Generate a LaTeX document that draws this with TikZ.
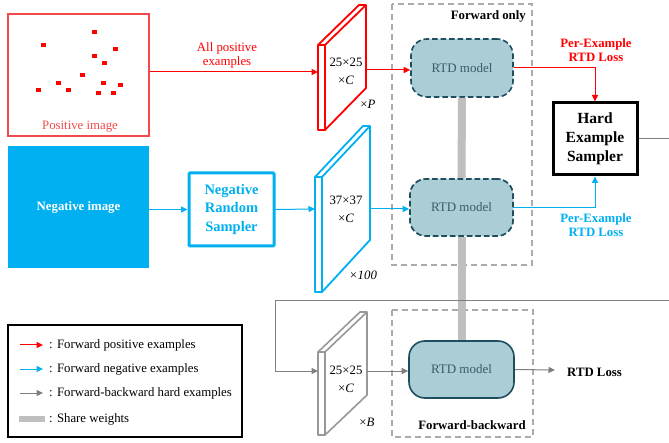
\documentclass[tikz,border=0pt]{standalone}
\usepackage{fontspec}
\setmainfont{Liberation Serif}
\usetikzlibrary{arrows.meta}
\definecolor{myred}{HTML}{FF0000}
\definecolor{lred}{HTML}{F24A4A}
\definecolor{myblue}{HTML}{00B0F0}
\definecolor{mygray}{HTML}{7F7F7F}
\definecolor{sharegray}{HTML}{BFBFBF}
\definecolor{boxgray}{HTML}{ABABAB}
\definecolor{rtdfill}{HTML}{AACDD6}
\definecolor{rtdline}{HTML}{1F4E5F}
\definecolor{rtdtext}{HTML}{3D5A66}
\newcommand{\fs}[2]{\fontsize{#1}{#2}\selectfont}
\tikzset{
  tip/.style={-{Triangle[length=6.5pt,width=6pt]}},
  redarrow/.style={tip,draw=myred,line width=1pt},
  bluearrow/.style={tip,draw=myblue,line width=1pt},
  grayarrow/.style={tip,draw=mygray,line width=1pt},
  rtd/.style={rounded corners=16pt,fill=rtdfill,draw=rtdline,line width=1.6pt,
     text=rtdtext,font=\fs{13}{15},inner sep=0pt},
  rtddash/.style={dash pattern=on 5.5pt off 3pt},
  dashbox/.style={draw=boxgray,dashed,dash pattern=on 6pt off 4pt,line width=1.3pt},
  bigbox/.style={inner sep=0pt,align=center,font=\bfseries\fs{15.5}{19}},
  plain/.style={inner sep=0pt,align=center,font=\fs{12.8}{14}},
  slabtxt/.style={inner sep=0pt,align=center,font=\fs{12.8}{18}},
  boldlab/.style={inner sep=0pt,align=center,font=\bfseries\fs{12.8}{14}},
}
\begin{document}
\begin{tikzpicture}[x=1pt,y=-1pt]
\useasboundingbox[fill=white] (0,0) rectangle (669,443);

% dashed boxes
\draw[dashbox] (392,4) rectangle (532,265);
\draw[dashbox] (392,310) rectangle (533,437);
\node[boldlab,anchor=east] (fwo) at (526,16) {Forward only};
\node[boldlab] (fwb) at (472,425) {Forward-backward};

% RTD models
\node[rtd,rtddash,minimum width=102pt,minimum height=58pt] (rtd1) at (462,68) {RTD model};
\node[rtd,rtddash,minimum width=103pt,minimum height=57pt] (rtd2) at (461.5,207.5) {RTD model};
% share weights bar
\draw[sharegray,line width=8pt] (rtd1.south) -- (rtd2.north);
\node[rtd,minimum width=105pt,minimum height=57pt] (rtd3) at (461.5,369.5) {RTD model};
\draw[sharegray,line width=8pt] (rtd2.south) -- (rtd3.north);
\node[rtd,rtddash,minimum width=103pt,minimum height=57pt] (rtd2b) at (461.5,207.5) {RTD model};

% positive image
\node[draw=lred,line width=1.5pt,minimum width=141pt,minimum height=122pt,inner sep=0pt] (posimg) at (78.5,75) {};
\node[plain,text=lred] (poslab) at (80,127) {Positive image};
\foreach \px/\py in {94/32,43/45,115/49,94/56,104/63,82/75,58/83,103/83,120/85,38/90,68/90,98/93,113/93}
  \fill[myred] (\px-2.5,\py-2) rectangle ++(5,4);

% negative image
\node[fill=myblue,minimum width=141pt,minimum height=122pt,inner sep=0pt,text=white,font=\bfseries\fs{12.8}{14}] (negimg) at (78.5,207) {Negative image};

% negative random sampler
\node[draw=myblue,line width=3pt,minimum width=85pt,minimum height=73pt,rounded corners=1pt,
      text=myblue,align=center,font=\bfseries\fs{14.5}{18.5},inner sep=0pt] (nrs) at (231.5,209.5) {Negative\\Random\\Sampler};

% hard example sampler
\node[draw=black,line width=3pt,minimum width=84pt,minimum height=72pt,bigbox] (hes) at (595,139) {Hard\\Example\\Sampler};

% red slab
\draw[myred,line width=1.8pt,fill=white,line join=round]
  (318,45) -- (359,5) -- (366,5) -- (366,88) -- (325,130) -- (318,130) -- cycle;
\draw[myred,line width=1.8pt] (318,45) -- (325,45) -- (366,5) (325,45) -- (325,130);
\node[slabtxt] (rslab) at (346,71) {25×25\\×\textit{C}};
\node[plain] (rmul) at (368,104) {×\textit{P}};
\coordinate (rsin) at (318,72);
\coordinate (rsout) at (366,70);

% blue slab
\draw[myblue,line width=1.8pt,fill=white,line join=round]
  (315,177) -- (363,126) -- (370,126) -- (370,240) -- (322,292) -- (315,292) -- cycle;
\draw[myblue,line width=1.8pt] (315,177) -- (322,177) -- (370,126) (322,177) -- (322,292);
\node[slabtxt] (bslab) at (346,209) {37×37\\×\textit{C}};
\node[plain,font=\itshape\fs{12.8}{14}] (bmul) at (363,275) {×100};
\coordinate (bsin) at (315,209);
\coordinate (bsout) at (370,209);

% gray slab
\draw[mygray!80,line width=1.6pt,fill=white,line join=round]
  (318,352) -- (360,312) -- (367,312) -- (367,395) -- (325,435) -- (318,435) -- cycle;
\draw[mygray!80,line width=1.6pt] (318,352) -- (325,352) -- (367,312) (325,352) -- (325,435);
\node[slabtxt] (gslab) at (346,379) {25×25\\×\textit{C}};
\node[plain] (gmul) at (367,422) {×\textit{B}};
\coordinate (gsin) at (318,371);
\coordinate (gsout) at (367,371);

% red connectors
\draw[redarrow] (posimg.east |- rsin) -- (rsin);
\node[plain,text=myred] (allpos) at (227,55) {All positive\\examples};
\draw[redarrow] (rsout) -- (rtd1.west |- rsout);
\draw[redarrow] (rtd1.east) -- (hes.north |- rtd1.east) -- (hes.north);
\node[boldlab,text=myred] (perred) at (596,50) {Per-Example\\RTD Loss};

% blue connectors
\draw[bluearrow] (negimg.east |- nrs.west) -- (nrs.west);
\draw[bluearrow] (nrs.east) -- (bsin);
\draw[bluearrow] (bsout) -- (rtd2b.west |- bsout);
\draw[bluearrow] (rtd2b.east) -- (hes.south |- rtd2b.east) -- (hes.south);
\node[boldlab,text=myblue] (perblue) at (596,225) {Per-Example\\RTD Loss};

% gray connectors
\draw[grayarrow] (hes.east) -- (675,139) -- (675,301) -- (275,301) -- (275,371) -- (gsin);
\draw[grayarrow] (gsout) -- (rtd3.west |- gsout);
\coordinate (lossend) at (555,370);
\draw[grayarrow] (rtd3.east) -- (lossend);
\node[boldlab,anchor=west] (rtdloss) at (567,372) {RTD Loss};

% legend
\node[draw=black,line width=1.5pt,minimum width=234pt,minimum height=112pt,inner sep=0pt] (legend) at (125,381) {};
\coordinate (l1a) at (20,345); \coordinate (l1b) at (43,345);
\coordinate (l2a) at (20,369); \coordinate (l2b) at (43,369);
\coordinate (l3a) at (20,393); \coordinate (l3b) at (43,393);
\coordinate (l4a) at (19,419); \coordinate (l4b) at (45,419);
\draw[redarrow] (l1a) -- (l1b);
\draw[bluearrow] (l2a) -- (l2b);
\draw[grayarrow] (l3a) -- (l3b);
\draw[sharegray,line width=6pt] (l4a) -- (l4b);
\node[plain,anchor=west] (t1) at (49,345) {: Forward positive examples};
\node[plain,anchor=west] (t2) at (49,369) {: Forward negative examples};
\node[plain,anchor=west] (t3) at (49,393) {: Forward-backward hard examples};
\node[plain,anchor=west] (t4) at (49,419) {: Share weights};
\end{tikzpicture}
\end{document}
